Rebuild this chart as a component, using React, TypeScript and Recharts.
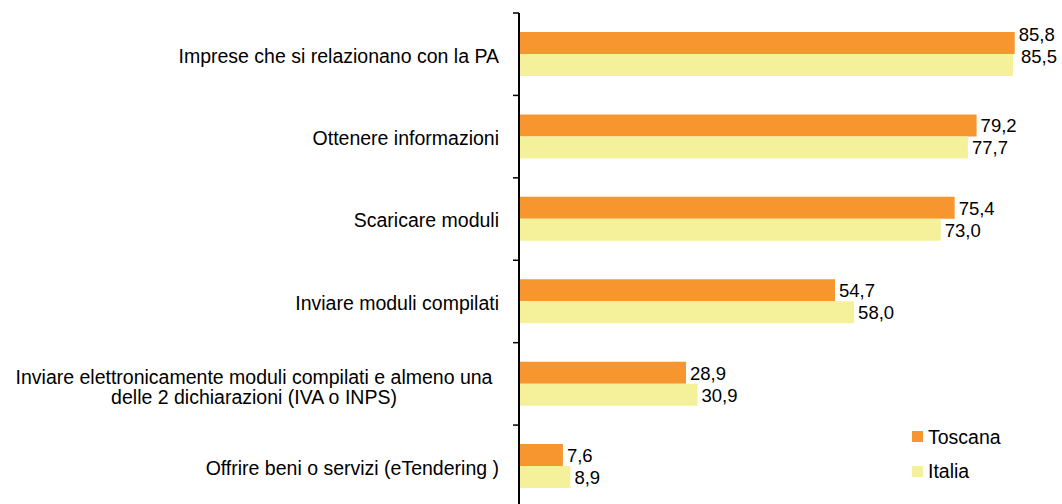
import { BarChart, Bar, XAxis, YAxis, LabelList } from "recharts"

const categories = [
  "Imprese che si relazionano con la PA",
  "Ottenere informazioni",
  "Scaricare moduli",
  "Inviare moduli compilati",
  "Inviare elettronicamente moduli compilati e almeno una\ndelle 2 dichiarazioni (IVA o INPS)",
  "Offrire beni o servizi (eTendering )",
]
const toscana = [85.8, 79.2, 75.4, 54.7, 28.9, 7.6]
const italia = [85.5, 77.7, 73.0, 58.0, 30.9, 8.9]
const seriesNames = ["Toscana", "Italia"]
const seriesColors = ["#F7962E", "#F5F19B"]

const data = categories.map((name, i) => ({ name, toscana: toscana[i], italia: italia[i] }))

// layout
const TOP = 13
const BOTTOM = 507.5
const AXIS_X = 519
const BAND = (BOTTOM - TOP) / categories.length
const FONT = "'Liberation Sans', Arial, sans-serif"

const fmt = (v: number) => Number(v).toFixed(1).replace(".", ",")

function CategoryTick(props: any) {
  const { y, payload } = props
  const lines = String(payload.value).split("\n")
  const multi = lines.length > 1
  const top = y - BAND / 2
  return (
    <g>
      <line x1={AXIS_X - 6} x2={AXIS_X} y1={top} y2={top} stroke="#000" strokeWidth={1.5} />
      {lines.map((l, i) => (
        <text
          key={i}
          x={multi ? 254 : 499}
          y={y + (multi ? (i - 0.5) * 20 + 3 : 1.5)}
          dy="0.355em"
          textAnchor={multi ? "middle" : "end"}
          fontSize={19.5}
          fontFamily={FONT}
          fill="#000"
        >
          {l}
        </text>
      ))}
    </g>
  )
}

// first group labels sit a bit higher in the original
const makeLabel = (extraX: number) => (props: any) => {
  const { x, y, width, height, value, index } = props
  const first = index === 0
  return (
    <text
      x={x + width + 4 + (first ? extraX : 0)}
      y={y + height / 2 + (first ? -9 : 0.5)}
      dy="0.355em"
      fontSize={18.5}
      fontFamily={FONT}
      fill="#000"
    >
      {fmt(value)}
    </text>
  )
}

export default function App() {
  return (
    <div
      style={{
        position: "fixed",
        top: 0,
        left: 0,
        width: 1062,
        height: 504,
        overflow: "hidden",
        background: "#fff",
        fontFamily: FONT,
      }}
    >
      <BarChart
        width={1062}
        height={520}
        data={data}
        layout="vertical"
        margin={{ top: TOP, right: 23, bottom: 520 - BOTTOM, left: 0 }}
        barGap={0}
      >
        <XAxis type="number" domain={[0, 90]} hide />
        <YAxis
          type="category"
          dataKey="name"
          width={AXIS_X}
          interval={0}
          axisLine={{ stroke: "#000", strokeWidth: 2 }}
          tickLine={false}
          tick={(p: any) => <CategoryTick {...p} />}
        />
        <Bar dataKey="toscana" name={seriesNames[0]} fill={seriesColors[0]} barSize={22} isAnimationActive={false}>
          <LabelList dataKey="toscana" content={makeLabel(0)} />
        </Bar>
        <Bar dataKey="italia" name={seriesNames[1]} fill={seriesColors[1]} barSize={22} isAnimationActive={false}>
          <LabelList dataKey="italia" content={makeLabel(4)} />
        </Bar>
      </BarChart>
      {seriesNames.map((n, i) => (
        <div
          key={n}
          style={{
            position: "absolute",
            left: 912,
            top: 426.5 + i * 34.5,
            height: 20,
            display: "flex",
            alignItems: "center",
            fontSize: 19.5,
            lineHeight: "20px",
            color: "#000",
          }}
        >
          <span style={{ width: 11, height: 11, background: seriesColors[i], marginRight: 5 }} />
          {n}
        </div>
      ))}
    </div>
  )
}
